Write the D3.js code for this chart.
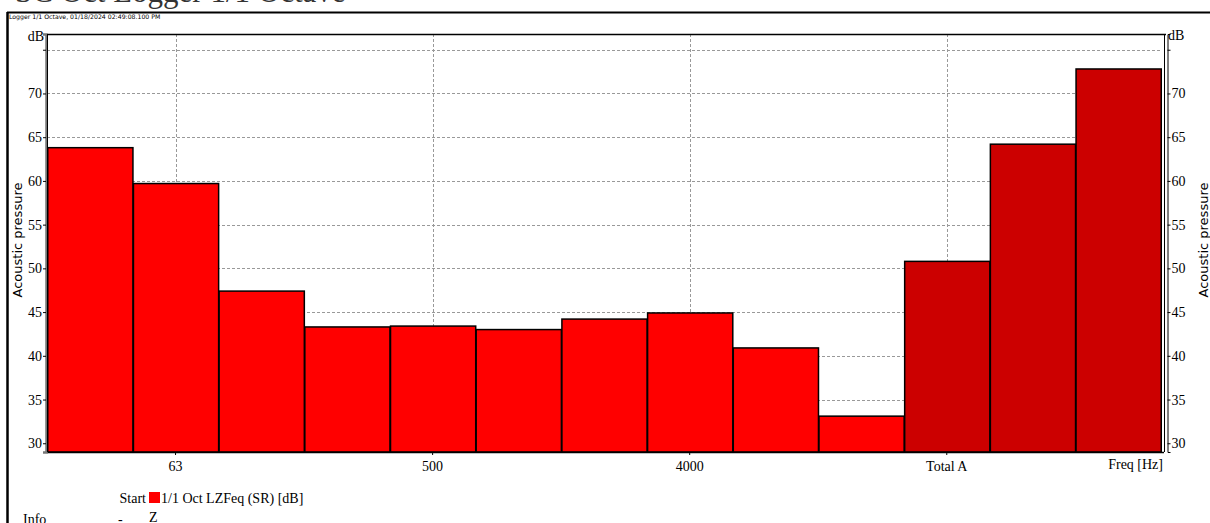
<!DOCTYPE html>
<html><head><meta charset="utf-8">
<script src="https://cdn.jsdelivr.net/npm/d3@7"></script>
<style>
body{margin:0;background:#fff;}
svg{display:block;}
</style></head>
<body>
<svg id="c" width="1210" height="523"></svg>
<script>
const categories = ["31.5","63","125","250","500","1000","2000","4000","8000","16000","Total A","Total C","Total Z"];
const values = [63.8, 59.7, 47.4, 43.3, 43.4, 43.0, 44.2, 44.9, 40.9, 33.1, 50.8, 64.2, 72.8];
const isTotal = [false,false,false,false,false,false,false,false,false,false,true,true,true];
const xTickLabels = ["63","500","4000","Total A"];
const yTicks = [30,35,40,45,50,55,60,65,70,75];
const yTickLabels = ["30","35","40","45","50","55","60","65","70",""];
const title = "SC Oct Logger 1/1 Octave";
const header = "Logger 1/1 Octave, 01/18/2024 02:49:08.100 PM";
const seriesName = "1/1 Oct LZFeq (SR) [dB]";

const svg = d3.select("#c");
const L = 47, R = 1161, T = 34, B = 452;
const serif = "'Liberation Serif','Times New Roman',serif";
const sans = "'DejaVu Sans',sans-serif";

const x = d3.scaleBand().domain(categories).range([L, R]).padding(0);
const y = d3.scaleLinear().domain([29, 76.8]).range([B, T]);

// title (clipped at top)
svg.append("text").attr("x", 15).attr("y", 1.5).attr("font-family", serif).attr("font-size", 31)
  .attr("fill", "#333").text(title);

// outer frame
svg.append("line").attr("x1", 7).attr("x2", 1210).attr("y1", 12.5).attr("y2", 12.5).attr("stroke", "#000").attr("stroke-width", 2);
svg.append("line").attr("x1", 7.5).attr("x2", 7.5).attr("y1", 12).attr("y2", 523).attr("stroke", "#000").attr("stroke-width", 2.5);

svg.append("text").attr("x", 9).attr("y", 19).attr("font-family", sans).attr("font-size", 6.2)
  .attr("fill", "#000").text(header);

// grid
const g = svg.append("g");
yTicks.forEach(v => {
  g.append("line").attr("x1", L).attr("x2", R).attr("y1", Math.round(y(v)) + 0.5).attr("y2", Math.round(y(v)) + 0.5)
    .attr("stroke", "#999").attr("stroke-dasharray", "3,2").attr("stroke-width", 1);
});
xTickLabels.forEach(c => {
  const cx = Math.round(x(c) + x.bandwidth() / 2) + 0.5;
  g.append("line").attr("x1", cx).attr("x2", cx).attr("y1", T).attr("y2", B)
    .attr("stroke", "#999").attr("stroke-dasharray", "3,2").attr("stroke-width", 1);
});

// bars
svg.append("g").selectAll("rect").data(categories).join("rect")
  .attr("x", (d) => x(d) + 0.75)
  .attr("y", (d, i) => y(values[i]))
  .attr("width", x.bandwidth() - 0.5)
  .attr("height", (d, i) => B - y(values[i]))
  .attr("fill", (d, i) => isTotal[i] ? "#cc0000" : "#ff0000")
  .attr("stroke", "#000").attr("stroke-width", 1.5);

// plot border
svg.append("line").attr("x1", L).attr("x2", 1166).attr("y1", T + 0.5).attr("y2", T + 0.5).attr("stroke", "#000").attr("stroke-width", 1.5);
svg.append("line").attr("x1", L).attr("x2", 1164).attr("y1", B + 0.5).attr("y2", B + 0.5).attr("stroke", "#000").attr("stroke-width", 1.5);

// left axis
const yAxisL = d3.axisLeft(y).tickValues(yTicks).tickSize(3).tickFormat((d, i) => yTickLabels[i]);
const gl = svg.append("g").attr("transform", `translate(${L - 1},0)`).call(yAxisL);
gl.select(".domain").attr("stroke", "#777").attr("stroke-width", 2.5);
gl.selectAll("text").attr("font-family", serif).attr("font-size", 14).attr("fill", "#000").attr("dx", 2);
svg.append("line").attr("x1", L + 0.5).attr("x2", L + 0.5).attr("y1", T).attr("y2", B).attr("stroke", "#000");

// right axis
const yAxisR = d3.axisRight(y).tickValues(yTicks).tickSize(3).tickFormat((d, i) => yTickLabels[i]);
const gr = svg.append("g").attr("transform", `translate(1167.5,0)`).call(yAxisR);
gr.select(".domain").attr("stroke", "#000").attr("stroke-width", 1);
gr.selectAll("text").attr("font-family", serif).attr("font-size", 14).attr("fill", "#000").attr("dx", -2);
svg.append("line").attr("x1", 1164.5).attr("x2", 1164.5).attr("y1", T).attr("y2", B).attr("stroke", "#000");

svg.append("text").attr("x", 44).attr("y", 41).attr("text-anchor", "end").attr("font-family", serif).attr("font-size", 14).text("dB");
svg.append("text").attr("x", 1168).attr("y", 40).attr("font-family", serif).attr("font-size", 14).text("dB");

// axis titles
svg.append("text").attr("transform", "translate(22,240) rotate(-90)").attr("text-anchor", "middle")
  .attr("font-family", sans).attr("font-size", 13).text("Acoustic pressure");
svg.append("text").attr("transform", "translate(1208,240) rotate(-90)").attr("text-anchor", "middle")
  .attr("font-family", sans).attr("font-size", 13).text("Acoustic pressure");

// x axis
const xAxis = d3.axisBottom(x).tickValues(xTickLabels).tickSize(3);
const gx = svg.append("g").attr("transform", `translate(0,${B})`).call(xAxis);
gx.select(".domain").remove();
gx.selectAll("text").attr("font-family", serif).attr("font-size", 14).attr("fill", "#000").attr("dy", "0.95em");
svg.append("text").attr("x", 1163).attr("y", 469).attr("text-anchor", "end").attr("font-family", serif).attr("font-size", 14).text("Freq [Hz]");

// legend
svg.append("text").attr("x", 146).attr("y", 503).attr("text-anchor", "end").attr("font-family", serif).attr("font-size", 14).text("Start");
svg.append("rect").attr("x", 149).attr("y", 492).attr("width", 11).attr("height", 11).attr("fill", "#ff0000");
svg.append("text").attr("x", 161).attr("y", 503).attr("font-family", serif).attr("font-size", 14).text(seriesName);
svg.append("text").attr("x", 23).attr("y", 524).attr("font-family", serif).attr("font-size", 14).text("Info");
svg.append("text").attr("x", 118).attr("y", 524).attr("font-family", serif).attr("font-size", 14).text("-");
svg.append("text").attr("x", 149).attr("y", 522).attr("font-family", serif).attr("font-size", 14).text("Z");
</script>
</body></html>
